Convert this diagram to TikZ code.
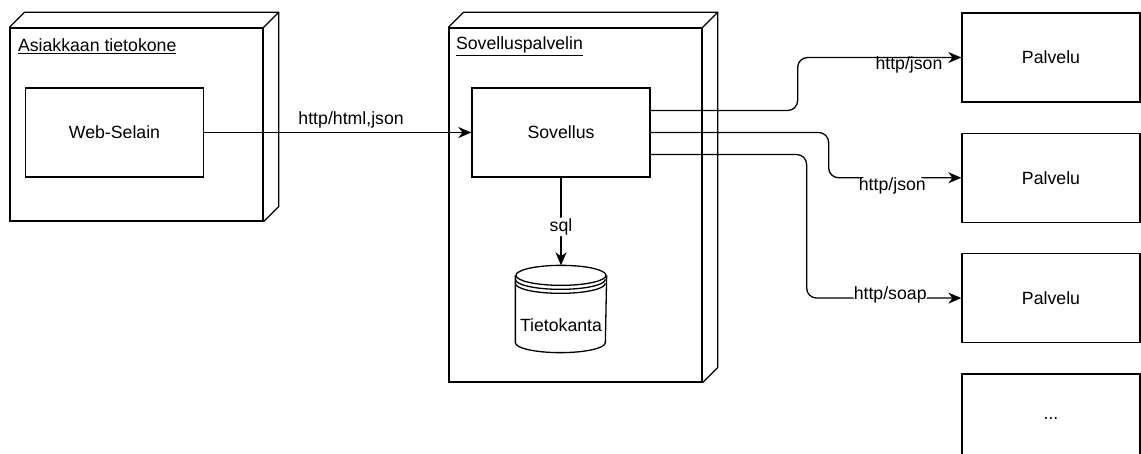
\documentclass[tikz,border=0pt]{standalone}
\usepackage{fontspec}
\setmainfont{Liberation Sans}
\usetikzlibrary{positioning, calc, arrows.meta}

\begin{document}
\begin{tikzpicture}[
    x=1pt, y=-1pt,
    line width=1.3pt,
    every node/.style={font=\fontsize{17.7}{20}\selectfont, inner sep=0pt},
    device/.style={draw, minimum width=253pt},
    part/.style={draw, minimum width=178pt, minimum height=89pt},
    title/.style={anchor=west},
    flow/.style={-{Stealth[length=13pt, width=11pt, inset=4pt]}, rounded corners=10pt},
    lbl/.style={fill=white, inner sep=1pt}
]
\useasboundingbox (0,0) rectangle (1141,454);

% Laitteet
\node[device, minimum height=193pt] (client) at (136.5,124.5) {};
\node[device, minimum height=354pt] (server) at (575.5,205) {};
\foreach \n in {client, server} {
  \draw (\n.north west) -- ++(15,-15) -| ($(\n.south east)+(15,-15)$) -- (\n.south east);
  \draw (\n.north east) -- ++(15,-15);
}
\node[title] at ($(client.north west)+(8,19)$) {\underline{Asiakkaan tietokone}};
\node[title] at ($(server.north west)+(7,19)$) {\underline{Sovelluspalvelin}};

% Komponentit
\node[part] (browser) at (114.5,132.5) {Web-Selain};
\node[part] (app) at (561,132.5) {Sovellus};

% Tietokanta
\node[minimum width=90pt, minimum height=86pt] (db) at (561,309) {};
\node at ($(db.center)+(0,16)$) {Tietokanta};
\draw ($(db.north)+(0,10)$) ellipse [x radius=45pt, y radius=10pt];
\draw ($(db.north west)+(0,14)$) arc[start angle=180, end angle=360, x radius=45pt, y radius=10pt];
\draw ($(db.north west)+(0,18)$) arc[start angle=180, end angle=360, x radius=45pt, y radius=10pt];
\draw ($(db.north west)+(0,10)$) -- ($(db.south west)+(0,-10)$)
  arc[start angle=180, end angle=360, x radius=45pt, y radius=10pt] -- ($(db.north east)+(0,10)$);

% Palvelut
\node[part] (svc1) at (1051,57.5) {Palvelu};
\node[part, below=30pt of svc1] (svc2) {Palvelu};
\node[part, below=30pt of svc2] (svc3) {Palvelu};
\node[part, below=30pt of svc3] (svc4) {...};

% Yhteydet
\draw[flow] (browser) -- node[above=4pt, pos=0.55] {http/html,json} (app);
\draw[flow] (app) -- node[lbl, pos=0.56] {sql} (db.north);
\draw[flow] ($(app.east)+(0,-22)$) -- ++(147,0) |- node[pos=0.84, below=-1pt] {http/json} (svc1.west);
\draw[flow] (app.east) -- ++(178,0) |- node[lbl, pos=0.74, below=-2pt] {http/json} (svc2.west);
\draw[flow] ($(app.east)+(0,22)$) -- ++(156,0) |- node[lbl, pos=0.77, yshift=3.5pt] {http/soap} (svc3.west);

\end{tikzpicture}
\end{document}
